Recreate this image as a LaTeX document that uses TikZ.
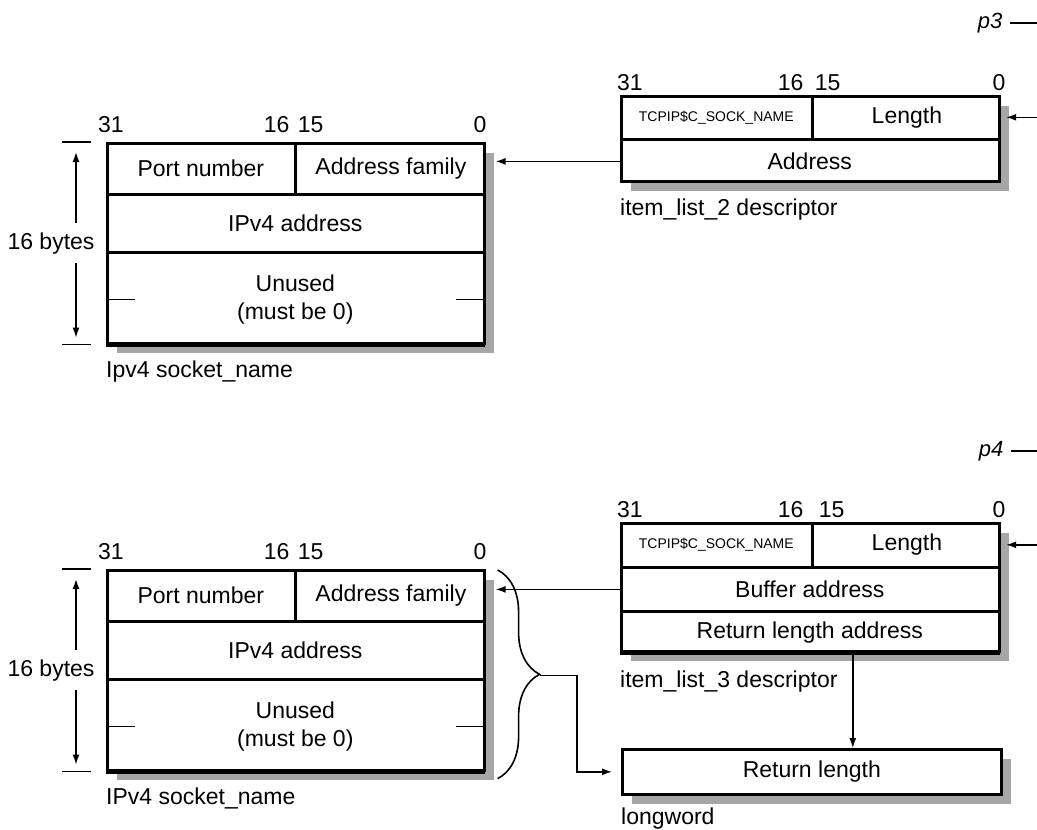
\documentclass[tikz,border=0pt]{standalone}
\usepackage{fontspec}
\setmainfont{Liberation Sans}
\usepackage{tikz}
\usetikzlibrary{arrows.meta,positioning,shadows,decorations.pathreplacing}

\begin{document}
\begin{tikzpicture}[x=1pt,y=-1pt,
  >={Latex[length=10pt,width=7pt]},
  every node/.style={font=\fontsize{23}{28}\selectfont}
]

\tikzstyle{frame}=[draw,line width=2.6pt,fill=white,rectangle,inner sep=0pt,anchor=north west,
  drop shadow={shadow xshift=10pt,shadow yshift=-10pt,fill=black!35,opacity=1}]
\tikzset{cell/.style={draw,line width=1.6pt,rectangle,inner sep=0pt,anchor=north west}}
\tikzset{lbl/.style={inner sep=0pt}}
\tikzset{arr/.style={->,line width=1.4pt}}
\tikzset{tick/.style={line width=1.6pt}}

\useasboundingbox (0,0) rectangle (1037,830);

% the two socket_name blocks
\foreach \n/\y/\cap in {1/142/Ipv4 socket\_name,2/569/IPv4 socket\_name}{
  \node[frame,minimum width=377pt,minimum height=200pt] (sock\n) at (106,\y) {};
  \node[cell,minimum width=188pt,minimum height=51pt] (port\n) at (sock\n.north west) {Port number};
  \node[cell,minimum width=189pt,minimum height=51pt] (fam\n) at (port\n.north east) {Address family};
  \node[cell,minimum width=377pt,minimum height=56pt] (ip\n) at (port\n.south west) {IPv4 address};
  \node[cell,minimum width=377pt,minimum height=93pt,align=center] (unused\n) at (ip\n.south west) {Unused\\(must be 0)};
  \draw[tick] (unused\n.west) -- ++(29,0);
  \draw[tick] (unused\n.east) -- ++(-29,0);
  % bit numbers
  \node[lbl,anchor=base west] (hi\n) at ([xshift=-8pt,yshift=10pt]sock\n.north west) {31};
  \node[lbl,anchor=base east] (sixteen\n) at ([xshift=-6pt,yshift=10pt]port\n.north east) {16};
  \node[lbl,anchor=base west] (fifteen\n) at ([xshift=2pt,yshift=10pt]port\n.north east) {15};
  \node[lbl,anchor=base east] (lo\n) at ([xshift=1pt,yshift=10pt]sock\n.north east) {0};
  % size
  \node[lbl] (bytes\n) at ([xshift=-55pt]sock\n.west) {16 bytes};
  \draw[tick] ([xshift=-44pt]sock\n.north west) -- ++(29,0);
  \draw[tick] ([xshift=-44pt]sock\n.south west) -- ++(29,0);
  \draw[arr] ([xshift=-30pt,yshift=20pt]sock\n.west) -- ([xshift=-30pt,yshift=-10pt]sock\n.north west);
  \draw[arr] ([xshift=-30pt,yshift=-20pt]sock\n.west) -- ([xshift=-30pt,yshift=7pt]sock\n.south west);
  \node[lbl,anchor=base west] (cap\n) at ([yshift=-33pt]sock\n.south west) {\cap};
}

% item_list_2 descriptor
\node[frame,minimum width=378pt,minimum height=85pt] (desc1) at (620,95) {};
\node[cell,minimum width=191pt,minimum height=43pt,font=\fontsize{14}{16}\selectfont] (code1) at (desc1.north west) {TCPIP\$C\_SOCK\_NAME};
\node[cell,minimum width=187pt,minimum height=43pt] (len1) at (code1.north east) {Length};
\node[cell,minimum width=378pt,minimum height=42pt] (addr1) at (code1.south west) {Address};
\node[lbl,anchor=base west] (dhi1) at ([xshift=-3pt,yshift=5pt]desc1.north west) {31};
\node[lbl,anchor=base east] (dsixteen1) at ([xshift=-9pt,yshift=5pt]code1.north east) {16};
\node[lbl,anchor=base west] (dfifteen1) at ([xshift=2pt,yshift=5pt]code1.north east) {15};
\node[lbl,anchor=base east] (dlo1) at ([xshift=5pt,yshift=5pt]desc1.north east) {0};
\node[lbl,anchor=base west] (dcap1) at ([yshift=-33pt]desc1.south west) {item\_list\_2 descriptor};

% item_list_3 descriptor
\node[frame,minimum width=378pt,minimum height=128pt] (desc2) at (620,522) {};
\node[cell,minimum width=191pt,minimum height=44pt,font=\fontsize{14}{16}\selectfont] (code2) at (desc2.north west) {TCPIP\$C\_SOCK\_NAME};
\node[cell,minimum width=187pt,minimum height=44pt] (len2) at (code2.north east) {Length};
\node[cell,minimum width=378pt,minimum height=42pt] (buf2) at (code2.south west) {Buffer address};
\node[cell,minimum width=378pt,minimum height=42pt] (rla2) at (buf2.south west) {Return length address};
\node[lbl,anchor=base west] (dhi2) at ([xshift=-3pt,yshift=5pt]desc2.north west) {31};
\node[lbl,anchor=base east] (dsixteen2) at ([xshift=-9pt,yshift=5pt]code2.north east) {16};
\node[lbl,anchor=base west] (dfifteen2) at ([xshift=6pt,yshift=5pt]code2.north east) {15};
\node[lbl,anchor=base east] (dlo2) at ([xshift=5pt,yshift=5pt]desc2.north east) {0};
\node[lbl,anchor=base west] (dcap2) at ([yshift=-35pt]desc2.south west) {item\_list\_3 descriptor};

% longword
\node[frame,minimum width=379pt,minimum height=45pt] (ret) at (621,748) {Return length};
\node[lbl,anchor=base west] (rcap) at ([yshift=-29pt]ret.south west) {longword};

% pointers coming in from the right
\coordinate (edge) at (1037,0);
\node[lbl,font=\fontsize{22}{26}\selectfont\itshape] (p3) at (990,23) {p3};
\node[lbl,font=\fontsize{22}{26}\selectfont\itshape] (p4) at (991,451) {p4};
\draw[line width=1.4pt] ([xshift=8pt]p3.east) -- (p3.east -| edge);
\draw[line width=1.4pt] ([xshift=8pt]p4.east) -- (p4.east -| edge);
\draw[arr] (len1.east -| edge) -- ([xshift=5pt]len1.east);
\draw[arr] (len2.east -| edge) -- ([xshift=5pt]len2.east);

\draw[arr] (addr1.west) -- ([xshift=10pt]addr1.west -| sock1.east);
\draw[arr] (buf2.west) -- ([xshift=10pt]buf2.west -| sock2.east);
\draw[arr] ([xshift=43pt]rla2.south) -- ([xshift=43pt]rla2.south |- ret.north);

% brace round the second socket_name
\draw[tick,decorate,decoration={brace,amplitude=42pt}]
  ([xshift=12pt,yshift=-1pt]sock2.north east) -- ([xshift=12pt,yshift=-7pt]sock2.south east);
\coordinate (tip) at ([xshift=54pt,yshift=-5pt]sock2.east);
\draw[arr,shorten >=9pt] (tip) -| ([xshift=-44pt]ret.west) -- (ret.west);

\end{tikzpicture}
\end{document}
